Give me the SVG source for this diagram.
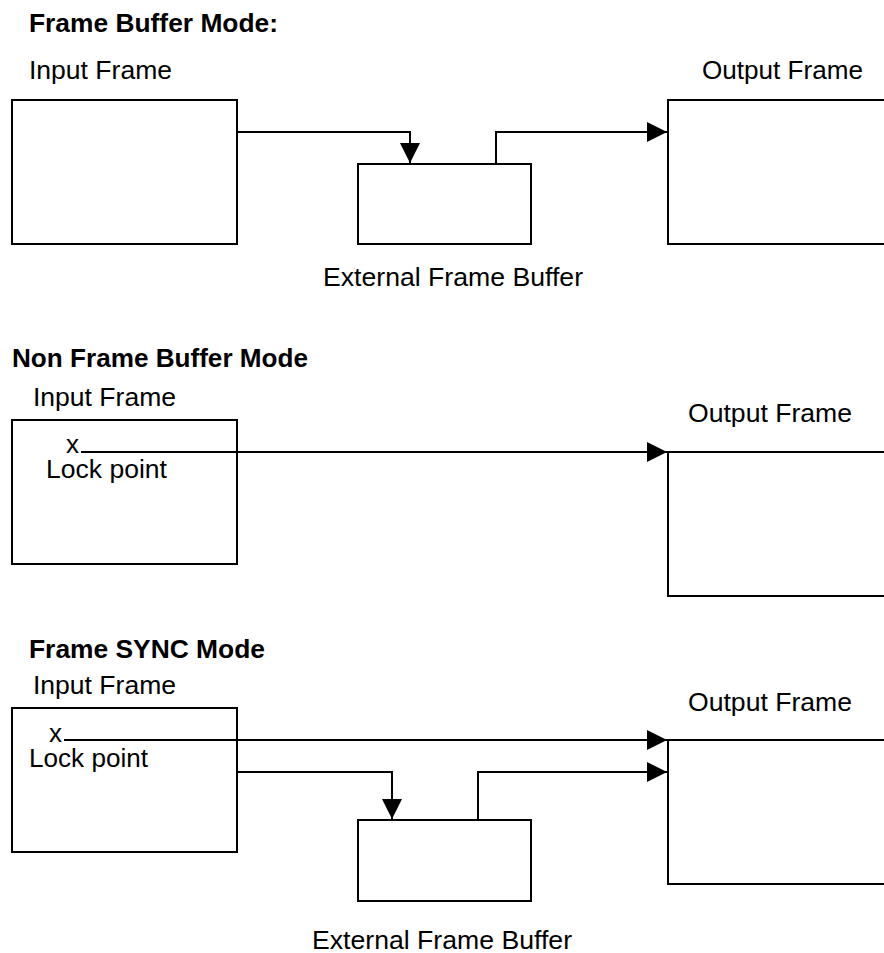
<svg xmlns="http://www.w3.org/2000/svg" width="884" height="953" viewBox="0 0 884 953">
<defs>
<style>
text{font-family:"Liberation Sans",Arial,sans-serif;font-size:26px;fill:#000}
.b{font-weight:bold}
.box{fill:#fff;stroke:#000;stroke-width:2}
.ln{fill:none;stroke:#000;stroke-width:2}
</style>
<marker id="ah" markerUnits="userSpaceOnUse" markerWidth="20" markerHeight="20" refX="20" refY="10" orient="auto" viewBox="0 0 20 20">
<path d="M0,0 L20,10 L0,20 z" fill="#000"/>
</marker>
</defs>
<rect width="884" height="953" fill="#fff"/>

<g id="titles">
<text class="b" x="29" y="32" textLength="249" lengthAdjust="spacingAndGlyphs">Frame Buffer Mode:</text>
<text class="b" x="12" y="367" textLength="296" lengthAdjust="spacingAndGlyphs">Non Frame Buffer Mode</text>
<text class="b" x="29" y="658" textLength="236" lengthAdjust="spacingAndGlyphs">Frame SYNC Mode</text>
</g>

<g id="fb-input">
<rect class="box" x="12" y="100" width="225" height="144"/>
<text x="29" y="79" textLength="143" lengthAdjust="spacingAndGlyphs">Input Frame</text>
</g>
<g id="fb-buffer">
<rect class="box" x="358" y="164" width="173" height="80"/>
<text x="323" y="286" textLength="260" lengthAdjust="spacingAndGlyphs">External Frame Buffer</text>
</g>
<g id="fb-output">
<path class="ln" d="M890,100 H668 V244 H890"/>
<text x="702" y="79" textLength="161" lengthAdjust="spacingAndGlyphs">Output Frame</text>
</g>

<g id="nfb-input">
<rect class="box" x="12" y="420" width="225" height="144"/>
<text x="33" y="406" textLength="143" lengthAdjust="spacingAndGlyphs">Input Frame</text>
<text x="66" y="453">x</text>
<text x="46" y="478" textLength="121" lengthAdjust="spacingAndGlyphs">Lock point</text>
</g>
<g id="nfb-output">
<path class="ln" d="M890,452 H668 V596 H890"/>
<text x="688" y="422" textLength="164" lengthAdjust="spacingAndGlyphs">Output Frame</text>
</g>

<g id="fs-input">
<rect class="box" x="12" y="708" width="225" height="144"/>
<text x="33" y="694" textLength="143" lengthAdjust="spacingAndGlyphs">Input Frame</text>
<text x="49" y="742">x</text>
<text x="29" y="767" textLength="119" lengthAdjust="spacingAndGlyphs">Lock point</text>
</g>
<g id="fs-buffer">
<rect class="box" x="358" y="820" width="173" height="81"/>
<text x="312" y="949" textLength="260" lengthAdjust="spacingAndGlyphs">External Frame Buffer</text>
</g>
<g id="fs-output">
<path class="ln" d="M890,740 H668 V884 H890"/>
<text x="688" y="711" textLength="164" lengthAdjust="spacingAndGlyphs">Output Frame</text>
</g>

<g id="connectors">
<path class="ln" d="M237,132 H410 V163" marker-end="url(#ah)"/>
<path class="ln" d="M496,164 V132 H667" marker-end="url(#ah)"/>
<path class="ln" d="M81,452 H667" marker-end="url(#ah)"/>
<path class="ln" d="M64,740 H667" marker-end="url(#ah)"/>
<path class="ln" d="M237,772 H392 V819" marker-end="url(#ah)"/>
<path class="ln" d="M478,820 V772 H667" marker-end="url(#ah)"/>
</g>
</svg>
